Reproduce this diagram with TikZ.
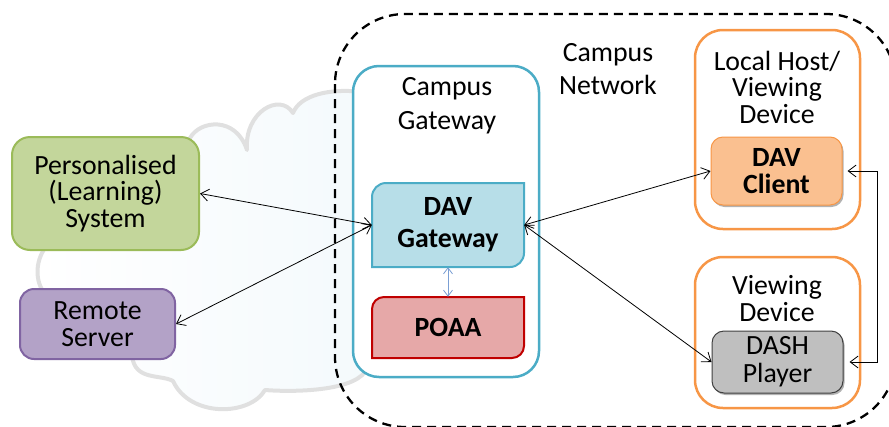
\documentclass[tikz,border=0pt]{standalone}
\usepackage{fontspec}
\setmainfont{Carlito}
\usetikzlibrary{arrows.meta,shadows,calc}
\definecolor{gwblue}{HTML}{4BACC6}
\definecolor{dgF}{HTML}{B7DEE8}
\definecolor{poaF}{HTML}{E6A8A8}
\definecolor{poaD}{HTML}{C00000}
\definecolor{grnF}{HTML}{C3D69B}
\definecolor{grnD}{HTML}{9BBB59}
\definecolor{purF}{HTML}{B3A2C7}
\definecolor{purD}{HTML}{8064A2}
\definecolor{orng}{HTML}{F79646}
\definecolor{dcF}{HTML}{FAC090}
\definecolor{dashF}{HTML}{BFBFBF}
\definecolor{arrblue}{HTML}{7B9FD4}
\definecolor{cloudF}{HTML}{EFF7FB}
\definecolor{cloudD}{HTML}{E0E0E0}
\tikzset{
  lbl/.style={font=\fontsize{27.8}{26.5}\selectfont, align=center, text=black, inner sep=0pt},
  cont/.style={draw, line width=2.5pt, fill=white, inner sep=0pt},
  boxx/.style={lbl, draw, line width=2pt},
  conn/.style={draw=black, line width=0.8pt, {Straight Barb[length=8pt,width=12pt]}-{Straight Barb[length=8pt,width=12pt]}},
  shad/.style={drop shadow={shadow xshift=1.5pt, shadow yshift=-2pt, opacity=0.3, fill=black}},
}
\begin{document}
\begin{tikzpicture}[x=1pt,y=-1pt]
\useasboundingbox (0,0) rectangle (889,426);
\clip (0,0) rectangle (889,426);
% background cloud
\path[left color=white, right color=cloudF, draw=cloudD, line width=4pt, line join=round]
  (190,138) .. controls (200,120) and (236,116) .. (247,150)
  .. controls (244,112) and (280,92) .. (293,113)
  .. controls (300,95) and (330,88) .. (362,92)
  -- (520,100) -- (520,350) -- (365,372)
  .. controls (350,392) and (290,392) .. (265,390)
  .. controls (250,416) and (190,418) .. (173,381)
  .. controls (160,374) and (135,381) .. (132,356)
  -- (45,294)
  .. controls (35,282) and (35,262) .. (45,248)
  -- cycle;
% campus network boundary
\draw[black, line width=2.3pt, dash pattern=on 9pt off 6pt, rounded corners=70pt]
  (335,14) rectangle (896,427);
% containers
\node[cont, draw=gwblue, rounded corners=26pt, minimum width=186pt, minimum height=311pt] (gwc) at (446,221.5) {};
\node[lbl, font=\fontsize{27.8}{34}\selectfont] (gwt) at (447,106) {Campus\\Gateway};
\node[lbl, font=\fontsize{27.8}{33}\selectfont] (cnt) at (608,69) {Campus\\Network};
\node[cont, draw=orng, rounded corners=28pt, minimum width=165pt, minimum height=199pt] (lhc) at (777.5,129.5) {};
\node[lbl] (lht) at (777,87) {Local Host/\\Viewing\\Device};
\node[cont, draw=orng, rounded corners=28pt, minimum width=165pt, minimum height=151pt] (vdc) at (777.5,332.5) {};
\node[lbl] (vdt) at (777,298.5) {Viewing\\Device};
% left boxes
\node[boxx, fill=grnF, draw=grnD, rounded corners=18pt, minimum width=187pt, minimum height=113pt] (pls) at (105.5,193.5) {Personalised\\(Learning)\\System};
\node[boxx, fill=purF, draw=purD, rounded corners=14pt, minimum width=155pt, minimum height=70pt] (rs) at (97.5,324) {Remote\\Server};
% DAV gateway and POAA (diagonal rounded corners)
\filldraw[fill=dgF, draw=gwblue, line width=2pt] (372,267) -- (372,197) arc[start angle=180, end angle=90, radius=14pt] -- (524,183) -- (524,253) arc[start angle=0, end angle=-90, radius=14pt] -- cycle;
\node[lbl, font=\fontsize{27.8}{32}\selectfont\bfseries, minimum width=152pt, minimum height=84pt] (dg) at (448,225) {DAV\\Gateway};
\filldraw[fill=poaF, draw=poaD, line width=2pt] (372,358) -- (372,309) arc[start angle=180, end angle=90, radius=12pt] -- (524,297) -- (524,346) arc[start angle=0, end angle=-90, radius=12pt] -- cycle;
\node[lbl, font=\fontsize{27.8}{32}\selectfont\bfseries, minimum width=152pt, minimum height=61pt] (poaa) at (448,327.5) {POAA};
% right boxes
\node[boxx, shad, fill=dcF, draw=orng, line width=1pt, rounded corners=12pt, minimum width=131pt, minimum height=68pt, font=\fontsize{27.8}{27}\selectfont\bfseries] (dc) at (776.5,171) {DAV\\Client};
\node[boxx, shad, fill=dashF, draw=black!75, line width=1pt, rounded corners=12pt, minimum width=131pt, minimum height=62pt, font=\fontsize{27.8}{28}\selectfont] (dp) at (777.5,362) {DASH\\Player};
% connectors
\draw[conn] (pls.east) -- (dg.west);
\draw[conn] (rs.east) -- (dg.west);
\draw[conn] (dg.east) -- (dc.west);
\draw[conn] (dg.east) -- (dp.west);
\draw[conn, shorten <=5pt, shorten >=6pt] (dc.east) -- ++(35,0) |- (dp.east);
\draw[line width=0.8pt, draw=arrblue, {Straight Barb[length=6pt,width=9pt]}-{Straight Barb[length=6pt,width=9pt]}] (dg.south) -- (poaa.north);
\end{tikzpicture}
\end{document}
